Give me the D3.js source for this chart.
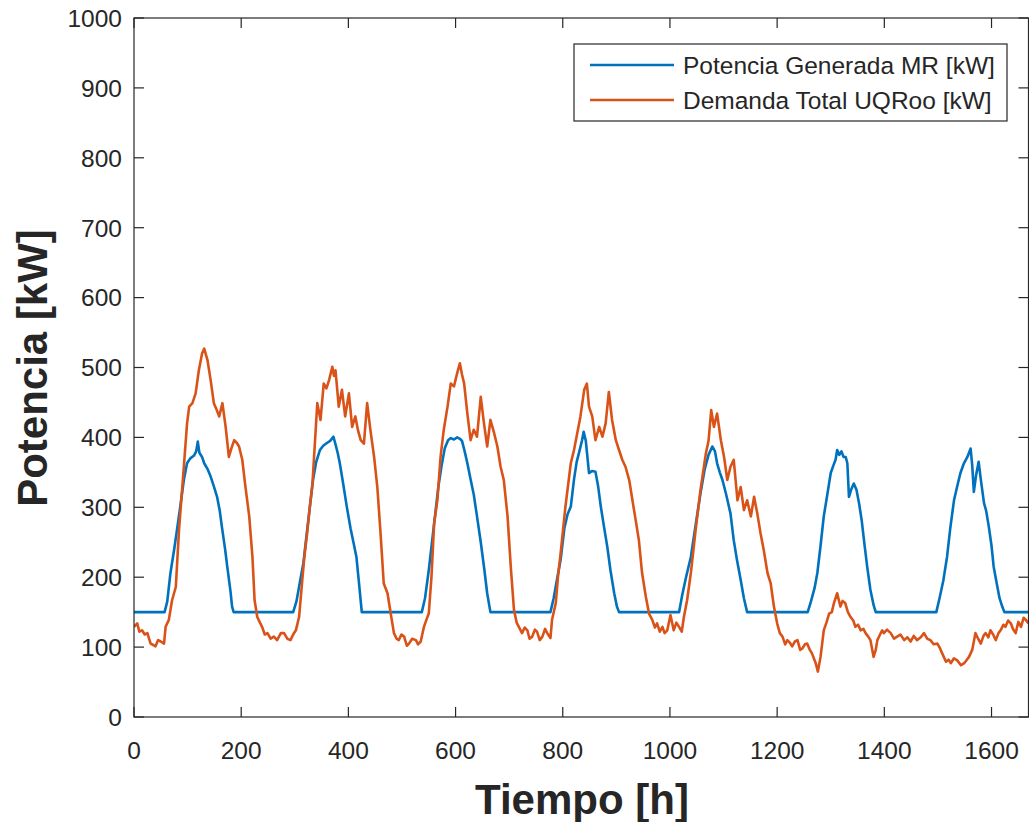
<!DOCTYPE html>
<html lang="es">
<head>
<meta charset="UTF-8">
<title>Potencia vs Tiempo</title>
<script src="https://cdn.jsdelivr.net/npm/d3@7"></script>
<style>
  body { margin: 0; background: #fff; }
  svg { display: block; font-family: "Liberation Sans", Arial, sans-serif; }
  .tick-label { font-size: 24.5px; fill: #262626; }
  .axis-title { font-size: 42px; font-weight: bold; fill: #262626; }
  .legend-text { font-size: 24.5px; fill: #262626; }
</style>
</head>
<body>
<svg id="chart" width="1029" height="822"></svg>
<script>
// ---- data ----
const xTicks = [0, 200, 400, 600, 800, 1000, 1200, 1400, 1600];
const yTicks = [0, 100, 200, 300, 400, 500, 600, 700, 800, 900, 1000];
const seriesNames = ["Potencia Generada MR [kW]", "Demanda Total UQRoo [kW]"];

// Potencia generada (azul): [hora, kW]
const genPoints = [
  [0,150],[57,150],[62,165],[68,206],[75,240],[81,272],[87,305],[93,339],[99,363],[105,370],[112,374],[116,380],[119,394],[122,378],[127,372],[131,363],[137,355],[143,344],[149,330],[155,315],[160,295],[164,272],[170,240],[174,215],[180,180],[183,158],[186,150],
  [297,150],[303,165],[310,195],[316,220],[322,260],[328,300],[334,339],[340,365],[347,382],[353,388],[360,392],[366,395],[372,401],[376,390],[380,378],[384,363],[390,335],[397,301],[404,270],[410,248],[415,229],[420,190],[425,150],
  [537,150],[543,170],[550,210],[556,250],[562,290],[568,330],[574,360],[580,385],[586,396],[591,399],[597,397],[603,400],[608,398],[612,395],[617,380],[622,363],[628,340],[634,318],[640,287],[647,250],[653,215],[659,177],[665,150],
  [777,150],[783,170],[790,200],[796,225],[803,270],[809,290],[815,301],[821,340],[826,365],[831,380],[836,396],[839,408],[843,395],[849,349],[855,352],[861,351],[866,330],[871,301],[877,272],[883,244],[889,210],[896,177],[901,158],[905,150],
  [1017,150],[1023,175],[1030,200],[1039,229],[1048,275],[1057,320],[1065,355],[1072,375],[1079,387],[1084,380],[1088,363],[1093,350],[1098,339],[1105,318],[1113,291],[1119,253],[1125,225],[1132,196],[1138,170],[1144,150],
  [1257,150],[1263,165],[1270,185],[1275,206],[1281,245],[1287,287],[1294,320],[1300,349],[1305,360],[1309,368],[1312,382],[1316,375],[1320,380],[1324,372],[1328,372],[1331,363],[1334,315],[1338,325],[1343,334],[1348,325],[1353,305],[1358,280],[1362,253],[1368,215],[1374,182],[1380,160],[1384,150],
  [1497,150],[1503,170],[1510,195],[1517,229],[1523,270],[1530,310],[1536,330],[1542,349],[1548,362],[1555,372],[1561,384],[1564,360],[1567,322],[1571,345],[1576,365],[1580,340],[1586,306],[1590,295],[1595,272],[1600,245],[1604,215],[1610,190],[1615,170],[1620,158],[1624,150],[1669,150]
];

// Demanda total (naranja): [hora, kW]
const demPoints = [
  [0,129],[6,134],[10,122],[15,124],[20,118],[25,120],[31,105],[36,103],[40,101],[45,110],[50,108],[56,105],[59,129],[65,139],[71,167],[78,186],[84,268],[93,358],[99,420],[103,444],[109,449],[115,463],[121,496],[127,520],[131,527],[137,511],[143,482],[149,449],[154,440],[159,430],[165,449],[171,415],[177,372],[182,385],[187,396],[192,392],[196,387],[202,368],[208,329],[215,287],[221,229],[225,167],[230,143],[235,135],[239,129],[244,118],[249,120],[255,112],[261,115],[267,110],[274,120],
  [280,120],[286,112],[292,110],[297,118],[302,124],[308,143],[314,196],[318,230],[323,263],[328,300],[333,334],[339,411],[342,449],[348,425],[354,477],[359,470],[364,482],[370,501],[373,488],[376,496],[382,444],[388,468],[394,430],[401,463],[407,415],[413,430],[418,410],[423,396],[429,391],[435,449],[441,411],[448,372],[454,329],[460,263],[466,191],[473,177],[479,148],[485,120],[490,112],[494,110],[499,118],[504,115],[509,102],[513,105],[519,112],[526,110],[530,104],[535,108],[541,129],[546,140],[550,148],[555,200],
  [560,277],[566,310],[572,372],[578,411],[585,444],[591,477],[597,473],[603,492],[608,506],[612,490],[616,477],[622,434],[628,396],[634,411],[640,401],[647,458],[653,420],[659,387],[665,425],[672,406],[678,387],[684,358],[690,339],[697,287],[703,215],[709,153],[714,135],[718,129],[724,120],[729,128],[734,124],[738,112],[743,115],[748,125],[752,122],[757,110],[762,115],[767,126],[771,120],[777,113],[780,139],[787,163],[791,200],[796,234],[805,301],[815,363],[821,382],[827,406],[833,430],
  [840,468],[845,477],[849,444],[855,430],[861,396],[868,415],[874,401],[880,420],[886,465],[892,425],[899,396],[905,382],[911,368],[917,358],[924,339],[930,310],[936,282],[942,253],[948,206],[955,172],[961,148],[967,139],[972,128],[976,134],[981,122],[986,129],[990,120],[995,124],[1001,146],[1007,124],[1012,135],[1017,129],[1022,122],[1026,143],[1032,167],[1039,206],[1048,268],[1057,325],[1067,377],[1072,395],[1077,439],[1082,415],[1088,434],[1095,396],[1101,372],[1107,339],[1113,358],
  [1119,368],[1126,310],[1132,329],[1138,296],[1144,310],[1151,287],[1157,315],[1163,291],[1169,263],[1175,239],[1182,206],[1188,191],[1194,158],[1200,134],[1205,120],[1210,115],[1215,104],[1219,110],[1224,106],[1228,101],[1233,108],[1238,110],[1243,96],[1247,98],[1252,104],[1256,105],[1261,96],[1265,91],[1272,77],[1276,65],[1281,86],[1287,124],[1292,135],[1297,148],[1302,150],[1306,163],[1312,177],[1318,158],[1322,166],[1327,163],[1332,150],[1337,143],[1342,138],[1346,129],[1351,132],[1356,124],[1361,126],[1365,120],[1370,115],[1374,110],[1380,86],[1384,96],[1387,110],[1392,118],[1396,124],
  [1399,120],[1405,125],[1412,120],[1418,112],[1424,115],[1430,118],[1437,110],[1443,114],[1449,108],[1455,116],[1461,110],[1468,114],[1474,120],[1480,112],[1486,110],[1492,104],[1499,105],[1504,98],[1508,91],[1515,79],[1520,82],[1524,77],[1530,84],[1536,81],[1543,74],[1549,77],[1554,82],[1558,86],[1564,96],[1570,120],[1575,112],[1580,105],[1585,116],[1589,120],[1594,114],[1598,124],[1603,118],[1608,110],[1613,120],[1617,124],[1622,132],[1626,129],[1631,138],[1636,134],[1640,126],[1645,120],[1650,136],[1655,129],[1660,142],[1664,139],[1669,134]
];

// ---- chart ----
const svg = d3.select("#chart");
const margin = { top: 18, left: 134, right: 0.5, bottom: 105 };
const width = 1029 - margin.left - margin.right;
const height = 822 - margin.top - margin.bottom;
const ink = "#262626";
const colors = ["#0072BD", "#D95319"];

const x = d3.scaleLinear().domain([0, 1669]).range([0, width]);
const y = d3.scaleLinear().domain([0, 1000]).range([height, 0]);

const g = svg.append("g").attr("transform", `translate(${margin.left},${margin.top})`);

const defs = svg.append("defs");
defs.append("clipPath").attr("id", "plotClip")
    .append("rect").attr("width", width).attr("height", height);

// series
const line = d3.line().x(d => x(d[0])).y(d => y(d[1]));
const plot = g.append("g").attr("clip-path", "url(#plotClip)");
[genPoints, demPoints].forEach((pts, i) => {
    plot.append("path")
        .datum(pts)
        .attr("fill", "none")
        .attr("stroke", colors[i])
        .attr("stroke-width", 2.6)
        .attr("stroke-linejoin", "round")
        .attr("d", line);
});

// box
g.append("rect")
    .attr("x", 0).attr("y", 0)
    .attr("width", width).attr("height", height)
    .attr("fill", "none").attr("stroke", ink).attr("stroke-width", 1.2);

// y ticks (left and right, pointing inward)
const tickLen = 10;
yTicks.forEach(v => {
    g.append("line").attr("x1", 0).attr("x2", tickLen)
        .attr("y1", y(v)).attr("y2", y(v)).attr("stroke", ink).attr("stroke-width", 1.2);
    g.append("line").attr("x1", width).attr("x2", width - tickLen)
        .attr("y1", y(v)).attr("y2", y(v)).attr("stroke", ink).attr("stroke-width", 1.2);
    g.append("text").attr("class", "tick-label")
        .attr("x", -12).attr("y", y(v) + 8.8)
        .attr("text-anchor", "end")
        .text(v);
});

// x ticks (bottom and top)
xTicks.forEach(v => {
    g.append("line").attr("x1", x(v)).attr("x2", x(v))
        .attr("y1", height).attr("y2", height - tickLen).attr("stroke", ink).attr("stroke-width", 1.2);
    g.append("line").attr("x1", x(v)).attr("x2", x(v))
        .attr("y1", 0).attr("y2", tickLen).attr("stroke", ink).attr("stroke-width", 1.2);
    g.append("text").attr("class", "tick-label")
        .attr("x", x(v)).attr("y", height + 42)
        .attr("text-anchor", "middle")
        .text(v);
});

// axis titles
svg.append("text").attr("class", "axis-title")
    .attr("x", 582).attr("y", 814)
    .attr("text-anchor", "middle")
    .text("Tiempo [h]");

svg.append("text").attr("class", "axis-title")
    .attr("transform", "translate(47,368) rotate(-90)")
    .attr("text-anchor", "middle")
    .text("Potencia [kW]");

// legend
const legend = svg.append("g").attr("transform", "translate(574,44)");
legend.append("rect")
    .attr("width", 433).attr("height", 77)
    .attr("fill", "#fff").attr("stroke", ink).attr("stroke-width", 1.2);
seriesNames.forEach((name, i) => {
    const ly = 21 + i * 35;
    legend.append("line")
        .attr("x1", 16).attr("x2", 100)
        .attr("y1", ly).attr("y2", ly)
        .attr("stroke", colors[i]).attr("stroke-width", 2.6);
    legend.append("text").attr("class", "legend-text")
        .attr("x", 109).attr("y", ly + 8.8)
        .text(name);
});
</script>
</body>
</html>
